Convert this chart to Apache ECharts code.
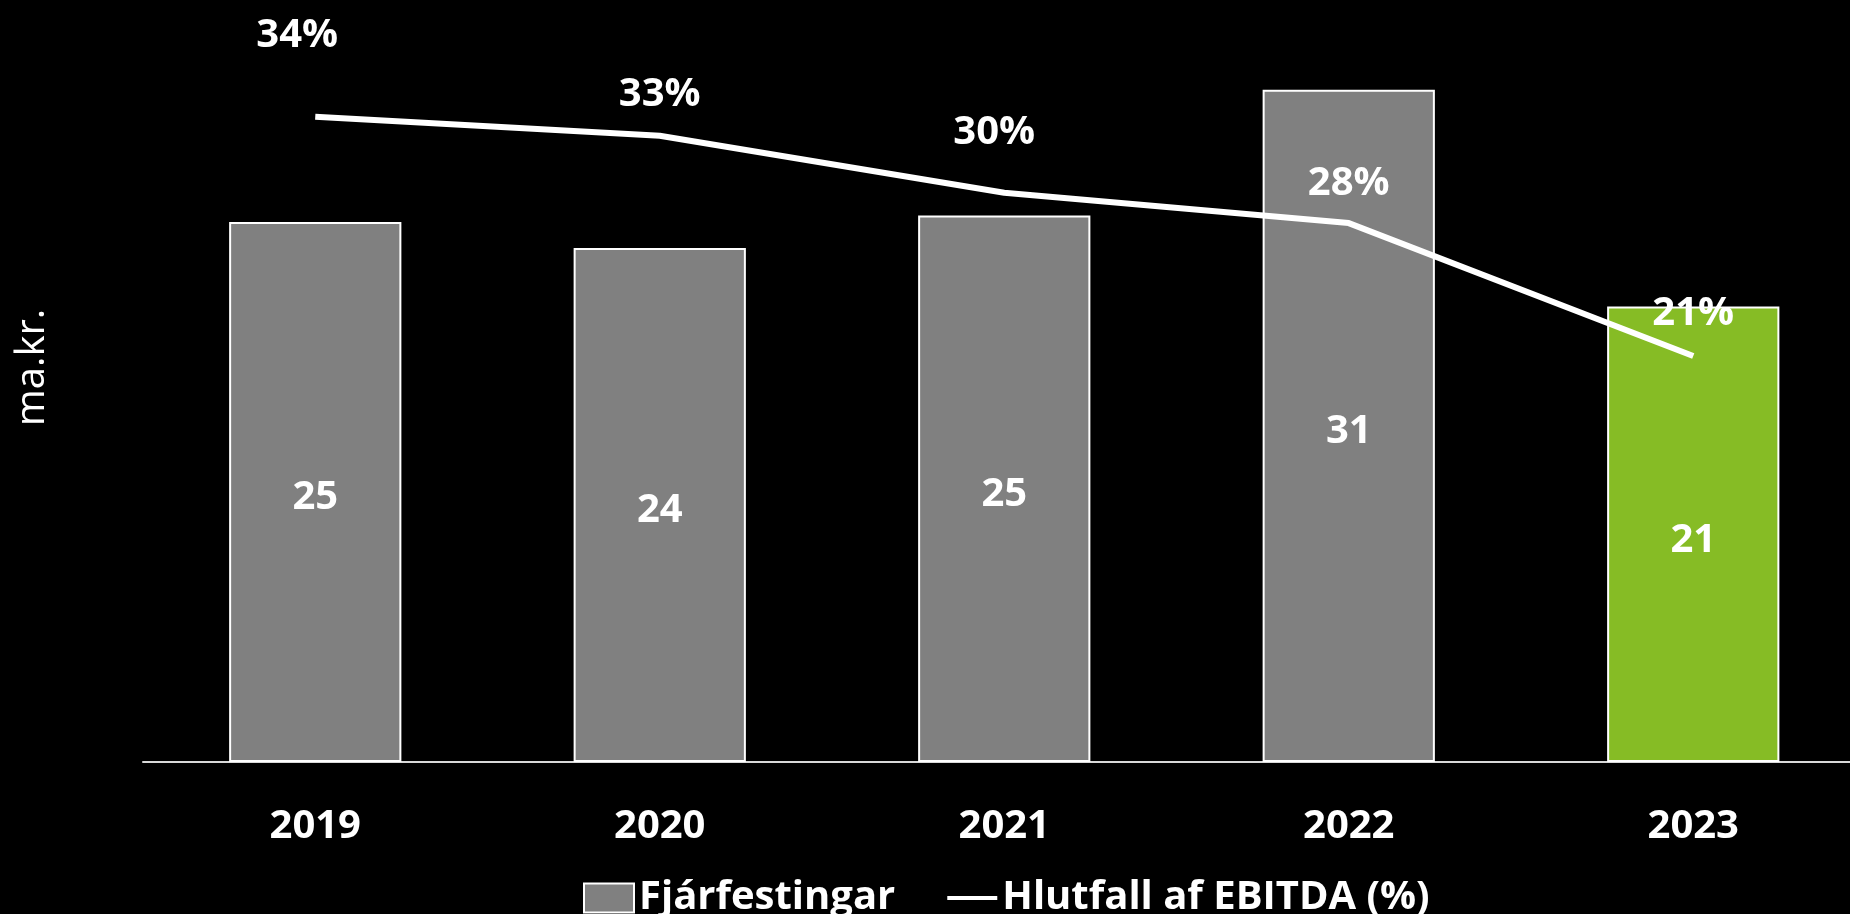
<!DOCTYPE html>
<html>
<head>
<meta charset="utf-8">
<script src="https://cdn.jsdelivr.net/npm/echarts@6/dist/echarts.min.js"></script>
<style>
html,body{margin:0;padding:0;background:#000;}
#chart{width:1850px;height:914px;}
</style>
</head>
<body>
<div id="chart"></div>
<script>
const years = ['2019', '2020', '2021', '2022', '2023'];
const fjarfestingar = [24.9, 23.7, 25.2, 31.0, 21.0];
const hlutfall = [34.0, 33.0, 30.0, 28.4, 21.4];
const seriesNames = ['Fjárfestingar', 'Hlutfall af EBITDA (%)'];
const yAxisName = 'ma.kr.';

const FONT = '"Open Sans", "Noto Sans", sans-serif';
const GRAY = '#808080';
const GREEN = '#86BC25';
const lineLabelOffsets = [[-18, -81], [0, -41], [-10, -60], [0, -40], [0, -42]];

const chart = echarts.init(document.getElementById('chart'));
chart.setOption({
  backgroundColor: '#000',
  animation: false,
  grid: { left: 143, width: 1722.5, top: 3, bottom: 152, outerBoundsMode: 'none', containLabel: false },
  legend: {
    left: 578,
    top: 873,
    itemGap: 50,
    itemWidth: 50,
    itemHeight: 29,
    textStyle: { color: '#fff', fontSize: 40, fontWeight: 'bold', fontFamily: FONT },
    data: [
      { name: seriesNames[0], icon: 'rect', itemStyle: { color: GRAY, borderColor: '#fff', borderWidth: 2 } },
      { name: seriesNames[1], lineStyle: { width: 4, color: '#fff' }, itemStyle: { color: 'rgba(0,0,0,0)', borderWidth: 0, opacity: 0 } }
    ]
  },
  xAxis: {
    type: 'category',
    data: years,
    axisLine: { show: true, lineStyle: { color: '#D9D9D9', width: 2 } },
    axisTick: { show: false },
    axisLabel: { color: '#fff', fontSize: 40, fontWeight: 'bold', fontFamily: FONT, margin: 45 }
  },
  yAxis: [
    {
      type: 'value', min: 0, max: 35,
      name: yAxisName, nameLocation: 'middle', nameRotate: 90, nameGap: 90,
      nameTextStyle: { color: '#fff', fontSize: 40, fontFamily: FONT, padding: [0, 0, 0, 30] },
      axisLine: { show: false }, axisTick: { show: false },
      axisLabel: { show: false }, splitLine: { show: false }
    },
    {
      type: 'value', min: 0, max: 40, show: false,
      axisLine: { show: false }, axisTick: { show: false },
      axisLabel: { show: false }, splitLine: { show: false }
    }
  ],
  series: [
    {
      name: seriesNames[0],
      type: 'bar',
      data: fjarfestingar,
      barWidth: '50%',
      itemStyle: {
        color: (p) => p.dataIndex === years.length - 1 ? GREEN : GRAY,
        borderColor: '#fff',
        borderWidth: 2
      },
      label: {
        show: true, position: 'inside', offset: [0, 6], color: '#fff', fontSize: 40, fontWeight: 'bold', fontFamily: FONT,
        formatter: (p) => Math.round(p.value)
      }
    },
    {
      name: seriesNames[1],
      type: 'line',
      yAxisIndex: 1,
      symbol: 'circle',
      symbolSize: 0,
      showSymbol: true,
      lineStyle: { color: '#fff', width: 6 },
      itemStyle: { color: '#fff' },
      data: hlutfall.map((v, i) => ({ value: v, label: { offset: lineLabelOffsets[i] } })),
      label: {
        show: true, position: 'inside', color: '#fff', fontSize: 40, fontWeight: 'bold', fontFamily: FONT,
        formatter: (p) => Math.round(p.value) + '%'
      }
    }
  ]
});
</script>
</body>
</html>
